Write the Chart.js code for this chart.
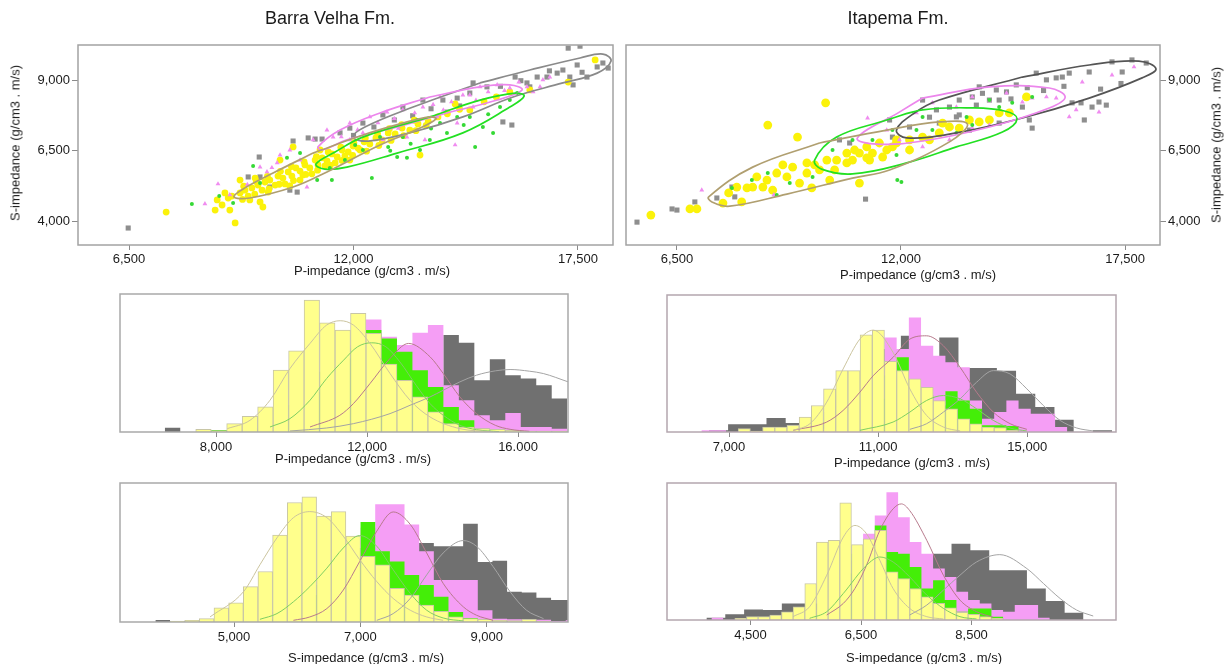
<!DOCTYPE html>
<html><head><meta charset="utf-8">
<script src="https://cdn.jsdelivr.net/npm/chart.js@4.4.1/dist/chart.umd.min.js"></script>
<style>
body{margin:0;background:#fff;font-family:"Liberation Sans",Arial,sans-serif;color:#1a1a1a;}
#page{position:relative;width:1229px;height:664px;overflow:hidden;background:#fff;}
canvas{position:absolute;}
.lbl{position:absolute;font-size:13px;white-space:nowrap;transform:translate(-50%,-50%);}
.ttl{position:absolute;font-size:18px;white-space:nowrap;transform:translate(-50%,-50%);}
.rot{transform:translate(-50%,-50%) rotate(-90deg);}
</style></head>
<body><div id="page">
<canvas id="bvScatter" width="630" height="275" style="left:0;top:0"></canvas>
<canvas id="itScatter" width="600" height="275" style="left:620px;top:0"></canvas>
<canvas id="bvPHist" width="470" height="175" style="left:110px;top:285px"></canvas>
<canvas id="bvSHist" width="470" height="175" style="left:110px;top:475px"></canvas>
<canvas id="itPHist" width="470" height="175" style="left:657px;top:285px"></canvas>
<canvas id="itSHist" width="470" height="175" style="left:657px;top:475px"></canvas>

<div class="ttl" style="left:330px;top:18px">Barra Velha Fm.</div>
<div class="ttl" style="left:898px;top:18px">Itapema Fm.</div>
<div class="lbl rot" style="left:15px;top:143px">S-impedance (g/cm3 . m/s)</div>
<div class="lbl rot" style="left:1216px;top:145px">S-impedance (g/cm3 . m/s)</div>
<div class="lbl" style="left:372px;top:270px">P-impedance (g/cm3 . m/s)</div>
<div class="lbl" style="left:918px;top:274px">P-impedance (g/cm3 . m/s)</div>
<div class="lbl" style="left:353px;top:458px">P-impedance (g/cm3 . m/s)</div>
<div class="lbl" style="left:366px;top:657px">S-impedance (g/cm3 . m/s)</div>
<div class="lbl" style="left:912px;top:462px">P-impedance (g/cm3 . m/s)</div>
<div class="lbl" style="left:924px;top:657px">S-impedance (g/cm3 . m/s)</div>
</div>
<script>
// ---- scatter: Barra Velha (P-imp, S-imp) ----
const bvYellow = [[7410,4320],[9100,3930],[8660,4750],[8780,4570],[8930,4820],[9020,4890],[9220,5000],[9340,5100],[9420,4890],[9510,5180],[9660,5280],[9760,5100],[9830,5390],[9950,5460],[10080,5280],[10150,5600],[10270,5530],[10400,5750],[10490,5600],[10590,5890],[10690,5780],[10810,6000],[10930,5890],[11060,6170],[11130,6000],[11230,6250],[11350,6140],[11470,6390],[11600,6280],[11720,6530],[11870,6460],[11990,6670],[12110,6600],[12260,6820],[12400,6740],[12550,6960],[12700,6890],[12850,7140],[13020,7100],[13190,7310],[13380,7240],[13580,7460],[13830,7560],[14070,7710],[9780,4500],[9710,4680],[10520,6640],[10200,6170],[10690,5460],[11180,6530],[11910,6170],[13630,6350],[15830,8600],[16320,8670],[17260,8950],[17920,9740],[14850,7960],[14490,8170],[9220,5460],[9590,5530],[8970,4390],[10320,5320],[10760,5640],[11300,5960],[11790,6320],[12160,6530],[11550,6070],[10980,5680],[10440,5250],[9910,5030],[9460,4750],[8850,5000],[8610,4390],
  [9310,5240],[9280,4770],[9620,5410],[9580,4960],[9890,5590],[9930,5140],[10210,5770],[10180,5310],[10480,5940],[10530,5440],[10790,6110],[10830,5660],[11090,6290],[11120,5810],[11380,6460],[11430,5990],[11690,6630],[11720,6160],[12010,6790],[11980,6340],[12290,6960],[12320,6490],[12590,7110],[12620,6690],[12880,7290],[12920,6870],[13180,7430],[13230,7040],[13490,7590],[13530,7220],[13780,7410],[14300,7820],[14600,7980],[15200,8250],[15500,8420]];
const bvGreen = [[8040,4610],[8710,4890],[9050,4640],[9540,5960],[10370,6250],[11110,5460],[11470,5460],[9710,5350],[10690,6420],[12450,5530],[13070,6280],[13310,6250],[13630,6530],[13870,6890],[14290,7140],[14980,6640],[15170,7350],[15420,7140],[14850,7710],[14540,7710],[14120,7490],[13560,7600],[13210,6990],[12850,6640],[12650,6990],[12230,6530],[15590,8060],[16010,8560],[15830,8310],[11790,6170],[12040,6710],[11420,5890],[13900,7300],[14700,7420],[15300,7800],[12900,6500],[13400,6750]];
const bvPink = [[8360,4610],[8680,5320],[9880,5750],[10130,6070],[10200,6350],[10860,5210],[11350,7240],[11010,6890],[10440,6530],[9710,5920],[11500,6990],[11910,7490],[12400,7710],[12820,7880],[13210,7960],[13700,8060],[14120,8420],[14680,8490],[15100,8780],[15520,8850],[15830,8740],[16250,8780],[16570,8780],[16640,9030],[16810,9130],[14050,7710],[14490,6710],[13750,6890],[13310,6990],[12720,6890],[11910,6890],[12230,7140],[14540,7490],[14930,8060],[8970,4930],[10690,6170],[14850,8490],
  [12600,7500],[13000,7650],[13500,7850],[13950,8150],[14400,8250],[15300,8600],[15700,8650],[16050,8950],[16400,8600],[15000,8300],[14200,7950],[13100,7300],[12100,7250],[11700,7000],[9400,5300],[10000,5900]];
const bvGray = [[6480,3750],[9690,6280],[9420,5570],[9950,5210],[10440,5100],[10620,5030],[10890,6960],[11060,6920],[11230,6920],[10520,6850],[9710,5570],[11670,7140],[11910,7310],[12230,7490],[12720,7780],[13210,8060],[13700,8310],[14190,8310],[14540,8380],[14850,8560],[15270,8780],[15660,7530],[15880,7420],[16250,8920],[16500,9130],[16740,9130],[16990,9270],[17130,9380],[17300,9130],[17380,8850],[17480,9560],[17720,9130],[17970,9490],[18110,9630],[18240,9450],[17260,10160],[17550,10230],[15960,9130],[16320,8780],[14930,8920],[14290,7880],
  [12500,7350],[13000,7600],[13450,7750],[13900,8000],[15600,8800],[16100,9000],[16800,9350],[17600,9300],[12000,7050],[14600,8100]];
const bvEllGray = [[15100,8920],[16320,9380],[17550,9810],[18110,9950],[18310,9700],[17970,9270],[17130,8920],[15910,8420],[14680,7710],[13460,7170],[12360,6850],[11990,6990],[12280,7350],[13460,8060],[15100,8920]];
const bvEllPink = [[13870,8420],[15100,8780],[15830,8850],[16130,8670],[15520,8310],[14290,7850],[13070,7350],[11840,6890],[11230,6530],[11130,6640],[11670,7240],[12650,7850],[13870,8420]];
const bvEllGreen = [[13870,7710],[15100,8310],[15960,8560],[16180,8450],[15830,8060],[14680,7140],[13070,6420],[11840,5920],[11300,5850],[11080,6030],[11550,6460],[12230,6990],[13870,7710]];
const bvEllTan = [[11010,6420],[12160,7030],[13140,7460],[13870,7710],[14020,7640],[13630,7310],[12650,6710],[11350,5750],[10520,5210],[9460,4820],[9070,4860],[9340,5180],[10030,5710],[11010,6420]];

// ---- scatter: Itapema ----
const itYellow = [[5860,4210],[6820,4430],[6990,4430],[7630,4640],[7770,5000],[8090,4680],[8730,7420],[9460,6990],[10150,8210],[8220,5180],[8460,5570],[8610,5210],[8950,5710],[9200,5570],[9340,5920],[9510,5350],[9690,6070],[9810,5180],[10000,5820],[10250,5460],[10420,6170],[10670,6420],[10810,6170],[10980,6420],[11160,6640],[11300,6420],[11470,6780],[11650,6530],[11890,6890],[10980,5350],[8850,5100],[8360,5210],[8710,5460],[7970,5210],[9100,6000],[9690,5710],[10180,6170],[10670,6070],[11160,6250],[11550,6280],[11890,6780],[12210,6890],[12530,6990],[12940,7140],[13190,7350],[13430,7310],[13680,7600],[13920,7530],[14170,7600],[14410,7850],[14660,7850],[15080,8420],[13020,7490],[12700,6890],[12210,6530],[11790,6640],[9880,6000],[10370,5820],[11230,6170],[10860,6530]];
const itGreen = [[8730,5710],[9270,5350],[9830,5570],[10320,6530],[10810,6890],[11300,6890],[11790,7240],[11910,5460],[8950,4930],[12010,5390],[12380,7240],[12770,7240],[13360,7140],[13750,7420],[14410,8060],[14730,8210],[15220,8420],[11890,6350],[12530,7710],[13610,7710],[14170,8310],[8340,5460],[7850,5180]];
const itPink = [[7110,5100],[8880,4930],[11180,7670],[11650,7240],[11960,6890],[12380,7850],[12770,8210],[13360,8060],[13750,8420],[14170,8310],[14590,8560],[14980,8240],[15220,8380],[15570,8420],[15810,8380],[16130,7710],[16300,7960],[16450,8950],[16860,7880],[17180,9200],[17720,9490],[14170,7420],[13750,7310],[13190,6890],[12530,6640]];
const itGray = [[5520,3960],[6380,4430],[6500,4390],[6940,4680],[7480,4820],[7920,4860],[7850,5210],[11130,4780],[10490,6890],[10740,6780],[10980,6420],[11720,7600],[11790,6990],[12210,7350],[12530,8310],[12870,7960],[13190,8060],[13430,8310],[13750,8420],[13920,8780],[14170,8310],[14340,8670],[14590,8600],[14830,8850],[14980,8060],[15150,7600],[15220,7310],[15320,9270],[15570,9030],[15810,9100],[15960,9130],[16130,9270],[16200,8210],[16420,8210],[16500,7600],[16620,9310],[16690,8060],[16860,8240],[17040,8130],[17180,9670],[17430,9310],[17670,9740],[18020,9630],[13850,8130],[13360,7710],[12940,7490],[14410,7490],[13680,7240],[14410,8310],[13430,7780],
  [14700,8350],[15100,8750],[15500,8650],[16000,8800],[14000,8550],[12700,7700],[16900,8700],[17400,8900]];
const itEllTan = [[10000,6780],[11650,7240],[12940,7530],[13630,7460],[13190,6820],[11720,5820],[10810,5530],[9200,4960],[7800,4530],[7360,4680],[7280,4860],[8360,5920],[10000,6780]];
const itEllGreen = [[11650,7600],[12530,7960],[13750,8030],[14540,7920],[14850,7640],[14490,7170],[13360,6640],[12140,6070],[10810,5680],[10050,5850],[9880,6170],[10420,6990],[11650,7600]];
const itEllPink = [[12530,8380],[14170,8780],[15640,8740],[16030,8420],[15640,8030],[14170,7350],[12530,6850],[11420,6740],[10930,6960],[11960,7880],[12530,8380]];
const itEllGray = [[14980,9130],[16620,9560],[17840,9700],[18260,9420],[17920,9100],[16620,8380],[14980,7670],[13360,7140],[12140,6960],[11890,7240],[12330,7850],[12940,8310],[14980,9130]];

const scatterXTicks = [6500, 12000, 17500];
const scatterYTicks = [4000, 6500, 9000];

// ---- histograms: bins start / width, counts ----
const bvPStart = 6643, bvPWidth = 410;
const bvPYellow = [0,0,0.8,0.4,2.5,4.7,7.5,18.5,24.3,39.5,32.7,30.5,35.5,29.5,20.3,15.5,10.5,6,2.5,1.5,1,0.8,0.5,0.3,0.3,0.3];
const bvPGreen = [0,0,0,0.6,0.5,1,2,4,8,12,18,22,25,30.5,28,24,18.5,13.5,7.5,3.5,1,0.5,0,0,0,0];
const bvPPink = [0,0,0,0,0,0.5,1,2,5,10,15,20,26,33.7,28.5,26,29.7,32,14,9.5,5,3.5,5.7,1.5,1.5,1];
const bvPGray = [1.3,0,0,0,0,0,0,0.5,1,1.5,2,2.5,3,4,5,7,10,14,29,26.7,15.5,21.8,17,16,14,10];
const bvPFitYellow = [[8300,1],[8900,3.5],[9430,9.5],[9960,19],[10490,26.5],[10930,32],[11290,33.3],[11640,32],[12080,26.5],[12610,17.5],[13140,9.5],[13670,4.5],[14460,1],[15300,0.1]];
const bvPFitGreen = [[9430,1.5],[9960,4],[10490,9.5],[10930,16],[11380,21.5],[11750,25.5],[12120,26.7],[12500,25.5],[12870,21],[13300,14],[13670,8.5],[14020,5],[14460,2],[14900,0.7],[15500,0.1]];
const bvPFitPink = [[10490,1.5],[11280,5],[11640,8.5],[12080,14.5],[12610,22],[13100,26.5],[13670,22.5],[14020,17.5],[14460,10.5],[14900,5.5],[15400,2],[15790,0.8],[16300,0.2]];
const bvPFitGray = [[9960,0.3],[10930,1.2],[11640,2.5],[12610,5.5],[13140,8],[13670,10.5],[14020,12.5],[14460,15],[14900,17],[15400,18.3],[15790,18.7],[16300,18.2],[16670,17.5],[17330,15]];
const bvPTicks = [8000, 12000, 16000];
const bvPLabels = ['8,000', '12,000', '16.000'];

const bvSStart = 3755, bvSWidth = 232;
const bvSYellow = [0,0.3,0.5,1,4.2,5.7,10.5,15,25.8,35.5,37.2,31.5,32.8,25.5,19.5,17,10,8,5,3.2,1.5,1,0.8,0.5,0.4,0.8,0.3,0,0];
const bvSGreen = [0,0,0,0,0,0,0.5,1,3,5,8,11,16,22,29.7,21,18,14,11,7.5,3,1.2,0,0,0,0,0,0,0];
const bvSPink = [0,0,0,0,0,0,0,0,0.5,1,3,6,12,20,28,35,35,29,21,12.5,12.5,12.5,3.5,1,0.8,0.5,0.7,0.3,0.5];
const bvSGray = [0.6,0,0,0,0,0,0,0,0,0,0,0,0.5,1.5,5,8,15,23.5,23.5,22.5,22.5,29.2,17.8,18.2,9,8.8,7.2,6.5,6.5];
const bvSFitYellow = [[4620,1.5],[5150,9],[5410,17],[5680,25],[5940,31],[6200,32.8],[6470,31],[6730,25.5],[6990,18.5],[7260,12],[7520,7],[7790,3.5],[8050,1.5],[8310,0.5]];
const bvSFitGreen = [[5410,0.8],[5680,2.5],[5940,6],[6200,10.5],[6470,16],[6730,22],[6990,25.7],[7260,22.5],[7520,15.5],[7790,8.5],[8050,3.5],[8310,1.2],[8630,0.3]];
const bvSFitPink = [[5940,0.5],[6200,1.5],[6470,4],[6730,9.5],[6990,18],[7260,27],[7520,32.7],[7790,29],[8050,20.5],[8310,11.5],[8630,4.5],[8840,2],[9100,0.5]];
const bvSFitGray = [[7260,0.5],[7520,2.5],[7790,7],[8050,14],[8310,20.5],[8630,24.2],[8840,22.5],[9100,16.5],[9370,9],[9630,3.5],[9900,1]];
const bvSTicks = [5000, 7000, 9000];
const bvSLabels = ['5,000', '7,000', '9,000'];

const itPStart = 5611, itPWidth = 327;
const itPGrayStart = 6460, itPGrayWidth = 515;
const itPYellow = [0,0,0,0,0,1,0.3,1.5,1.5,2,4.5,8,13,18.5,18.5,29.3,30.7,21.3,18.5,16,13.5,9.5,7,4,2.5,1.5,1.3,0.5,0,0,0,0];
const itPGreen = [0,0,0,0,0,0,0,0,0,0,0,0,0,1,3,6,10,17,22.5,14,11,8,12.3,9.5,7,2,2,1.8,0,0,0,0];
const itPPink = [0,0,0.5,0.5,0,0,0,0,0,0,0,0,1,2,5,10,20,28.5,25,34.5,26,23,21,19.5,9.5,4,6,9.5,7,5.5,5.5,1.5];
const itPGray = [0.5,2.3,2.3,4.2,2.7,3,6,10,16,25,29,20,28.5,19.3,19.3,18.5,11.5,7.5,3.7,0,0.5];
const itPFitYellow = [[8720,0.5],[9170,2.5],[9620,9],[10060,19],[10510,28],[10870,30.7],[11400,24],[11850,13],[12300,5],[12750,1.5],[13200,0.3]];
const itPFitGreen = [[10510,0.5],[11400,3],[11850,6],[12300,9.5],[12750,11],[13200,10],[13640,7],[14090,3.5],[14540,1.2],[14990,0.3]];
const itPFitPink = [[8720,0.5],[9620,3],[10060,6.5],[10510,12],[10870,17],[11400,22.5],[11850,28],[12300,29],[12750,26],[13200,19.5],[13640,12],[14090,6],[14540,2.5],[14990,0.8]];
const itPFitGray = [[11850,0.8],[12300,2.5],[12750,6],[13200,10],[13640,15],[14090,18.5],[14540,17.5],[14990,13],[15430,8],[15880,3.5],[16330,1.2],[16770,0.3]];
const itPTicks = [7000, 11000, 15000];
const itPLabels = ['7,000', '11,000', '15,000'];

const itSStart = 3795, itSWidth = 211;
const itSGrayStart = 3704, itSGrayWidth = 341;
const itSYellow = [0,0,0.5,1,1,1.5,2.5,4,11,23.5,24,35.3,22.7,24.5,27,14.5,12.5,9.5,7,5,3.7,2.3,1.7,1,0.5,0,0,0,0];
const itSGreen = [0,0,0,0,0,0,0,0,1,3,8,14,20,24,28.5,20.5,20,16,9.5,12,6,2.5,3.5,3.5,1,0,0,0,0];
const itSPink = [0.7,0,0,0,0,0,0,0,1,3,6,10,18,26,31.5,38.5,31,23.5,20,15.5,13,8.5,6,5,3,2.5,4.5,4.5,0.7];
const itSGray = [0.7,1.7,3.2,3,5,5,6,8,10,13,16,18,20,23,21,15,15,9.5,5.7,2.2];
const itSFitYellow = [[5270,1],[5570,4],[5880,13.5],[6180,25],[6390,28.5],[6600,26],[6840,18],[7080,9.5],[7380,3.5],[7690,1],[7990,0.3]];
const itSFitGreen = [[5570,0.5],[5880,2.5],[6180,8],[6600,16.5],[6840,19],[7080,17.5],[7380,13],[7690,7.5],[7990,3.5],[8290,1],[8590,0.3]];
const itSFitPink = [[5880,1.5],[6180,5],[6390,9.5],[6600,16.5],[6840,27],[7080,33.5],[7230,35],[7380,33],[7690,24],[7990,13.5],[8290,6],[8590,2.5],[8890,0.8]];
const itSFitGray = [[7380,1.5],[7690,4.5],[7990,9],[8290,13.5],[8590,17.5],[9010,19.7],[9500,15.5],[9800,11],[10100,6.5],[10400,3],[10700,1.2]];
const itSTicks = [4500, 6500, 8500];
const itSLabels = ['4,500', '6,500', '8,500'];

// ---- styling ----
Chart.defaults.font.family = '"Liberation Sans", Arial, sans-serif';
Chart.defaults.font.size = 13;
Chart.defaults.color = '#1a1a1a';

const boxFrame = {
  id: 'boxFrame',
  afterDatasetsDraw(chart, args, opts) {
    const a = chart.chartArea, ctx = chart.ctx;
    ctx.save();
    ctx.strokeStyle = opts.color || '#999';
    ctx.lineWidth = opts.width || 1.5;
    ctx.strokeRect(a.left, a.top, a.right - a.left, a.bottom - a.top);
    ctx.restore();
  }
};
Chart.register(boxFrame);

const pts = arr => arr.map(p => ({x: p[0], y: p[1]}));
const steps = (start, w, counts) => counts.map((c, i) => ({x: start + i * w, y: c})).concat([{x: start + counts.length * w, y: 0}]);
const bars = (start, w, counts) => counts.map((c, i) => ({x: start + (i + 0.5) * w, y: c})).filter(p => p.y > 0);

function fixedAxis(ticks, labels, size, isX, position) {
  return {
    type: 'linear', position: position,
    afterBuildTicks: s => { s.ticks = ticks.map(v => ({value: v})); },
    afterFit: s => { if (isX) s.height = size; else s.width = size; },
    grid: {drawOnChartArea: false, tickLength: isX ? 5 : 6, color: '#8a8a8a', offset: false},
    border: {display: false},
    ticks: {padding: 2, autoSkip: false, maxRotation: 0, callback: (v, i) => labels[i]}
  };
}

function ellipse(data, color) {
  return {data: pts(data), showLine: true, borderColor: color, borderWidth: 1.7, pointRadius: 0, tension: 0.4, fill: false, order: 0};
}

function scatterChart(id, s) {
  const fmt = v => v.toLocaleString('en-US');
  const xAx = fixedAxis(scatterXTicks, scatterXTicks.map(fmt), 30, true, 'bottom');
  xAx.min = 5250; xAx.max = 18358;
  const yAx = fixedAxis(scatterYTicks, scatterYTicks.map(fmt), s.yWidth, false, s.yPos);
  yAx.min = 3145; yAx.max = 10272;
  return new Chart(document.getElementById(id), {
    type: 'scatter',
    data: {datasets: [
      ellipse(s.ell[0], '#b09f70'),
      ellipse(s.ell[1], '#22e022'),
      ellipse(s.ell[2], '#ec86ec'),
      ellipse(s.ell[3], s.ellGrayColor),
      {data: pts(s.green), pointStyle: 'circle', pointRadius: 2, backgroundColor: '#35d935', borderWidth: 0, order: 1},
      {data: pts(s.pink), pointStyle: 'triangle', pointRadius: 2.8, backgroundColor: '#f08cf0', borderWidth: 0, order: 2},
      {data: pts(s.yellow), pointStyle: 'circle', pointRadius: s.yellowR, backgroundColor: '#fbf20a', borderWidth: 0, order: 3},
      {data: pts(s.gray), pointStyle: 'rect', pointRadius: 3.6, backgroundColor: '#8e8e8e', borderWidth: 0, order: 4}
    ]},
    options: {
      responsive: false, animation: false, events: [],
      layout: {padding: s.pad},
      plugins: {legend: {display: false}, tooltip: {enabled: false}, boxFrame: {color: '#a3a3a3', width: 1.5}},
      scales: {x: xAx, y: yAx}
    }
  });
}

function fitLine(data, color) {
  return {type: 'line', data: pts(data), borderColor: color, borderWidth: 1, pointRadius: 0, tension: 0.4, cubicInterpolationMode: 'monotone', fill: false, order: 0};
}
function stepSet(data, color, order) {
  return {type: 'line', data: data, stepped: true, fill: 'origin', backgroundColor: color, borderColor: 'rgba(0,0,0,0)', borderWidth: 1, pointRadius: 0, order: order};
}

function histChart(id, h) {
  const xAx = fixedAxis(h.ticks, h.labels, h.axisH, true, 'bottom');
  xAx.min = h.xMin; xAx.max = h.xMax; xAx.offset = false;
  xAx.ticks.padding = 3;
  return new Chart(document.getElementById(id), {
    type: 'bar',
    data: {datasets: [
      fitLine(h.fits[0], '#cbc49e'),
      fitLine(h.fits[1], '#7fcf62'),
      fitLine(h.fits[2], '#b77a8c'),
      fitLine(h.fits[3], '#a4a4a4'),
      {type: 'bar', data: bars(h.start, h.width, h.yellow), backgroundColor: '#ffff8c', borderColor: '#c8c6a6', borderWidth: 1, barPercentage: 1, categoryPercentage: 1, order: 5},
      stepSet(steps(h.start, h.width, h.green), '#44ee08', 6),
      stepSet(steps(h.start, h.width, h.pink), '#f59ef5', 7),
      stepSet(steps(h.grayStart, h.grayWidth, h.gray), '#707070', 8)
    ]},
    options: {
      responsive: false, animation: false, events: [],
      layout: {padding: h.pad},
      plugins: {legend: {display: false}, tooltip: {enabled: false}, boxFrame: {color: h.frame, width: 1.5}},
      scales: {x: xAx, y: {display: false, min: 0, max: 41.3}}
    }
  });
}

scatterChart('bvScatter', {
  yellow: bvYellow, green: bvGreen, pink: bvPink, gray: bvGray,
  ell: [bvEllTan, bvEllGreen, bvEllPink, bvEllGray], ellGrayColor: '#8a8a8a',
  yellowR: 3.4, yPos: 'left', yWidth: 78, pad: {left: 0, top: 45, right: 17, bottom: 0}
});
scatterChart('itScatter', {
  yellow: itYellow, green: itGreen, pink: itPink, gray: itGray,
  ell: [itEllTan, itEllGreen, itEllPink, itEllGray], ellGrayColor: '#555555',
  yellowR: 4.4, yPos: 'right', yWidth: 60, pad: {left: 6, top: 45, right: 0, bottom: 0}
});

histChart('bvPHist', {
  start: bvPStart, width: bvPWidth, grayStart: bvPStart, grayWidth: bvPWidth,
  yellow: bvPYellow, green: bvPGreen, pink: bvPPink, gray: bvPGray,
  fits: [bvPFitYellow, bvPFitGreen, bvPFitPink, bvPFitGray],
  xMin: 5457, xMax: 17324, ticks: bvPTicks, labels: bvPLabels,
  axisH: 28, pad: {left: 10, top: 9, right: 12, bottom: 0}, frame: '#a9a9a9'
});
histChart('bvSHist', {
  start: bvSStart, width: bvSWidth, grayStart: bvSStart, grayWidth: bvSWidth,
  yellow: bvSYellow, green: bvSGreen, pink: bvSPink, gray: bvSGray,
  fits: [bvSFitYellow, bvSFitGreen, bvSFitPink, bvSFitGray],
  xMin: 3195, xMax: 10287, ticks: bvSTicks, labels: bvSLabels,
  axisH: 28, pad: {left: 10, top: 8, right: 12, bottom: 0}, frame: '#a9a9a9'
});
histChart('itPHist', {
  start: itPStart, width: itPWidth, grayStart: itPGrayStart, grayWidth: itPGrayWidth,
  yellow: itPYellow, green: itPGreen, pink: itPPink, gray: itPGray,
  fits: [itPFitYellow, itPFitGreen, itPFitPink, itPFitGray],
  xMin: 5336, xMax: 17381, ticks: itPTicks, labels: itPLabels,
  axisH: 28, pad: {left: 10, top: 10, right: 11, bottom: 0}, frame: '#b4a7af'
});
histChart('itSHist', {
  start: itSStart, width: itSWidth, grayStart: itSGrayStart, grayWidth: itSGrayWidth,
  yellow: itSYellow, green: itSGreen, pink: itSPink, gray: itSGray,
  fits: [itSFitYellow, itSFitGreen, itSFitPink, itSFitGray],
  xMin: 2991, xMax: 11112, ticks: itSTicks, labels: itSLabels,
  axisH: 30, pad: {left: 10, top: 8, right: 11, bottom: 0}, frame: '#b4a7af'
});
</script>
</body></html>
